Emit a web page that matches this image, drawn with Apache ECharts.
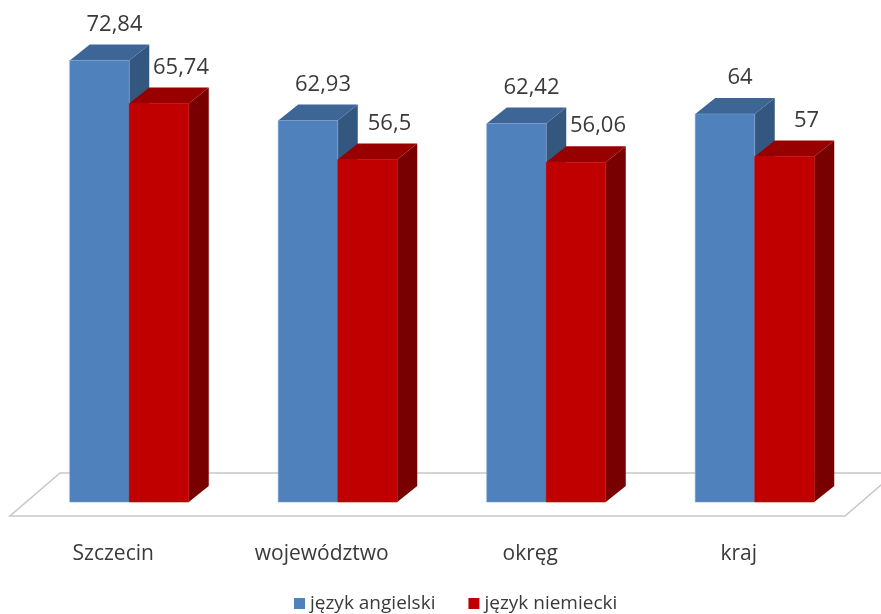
<!DOCTYPE html>
<html><head><meta charset="utf-8">
<script src="https://cdn.jsdelivr.net/npm/echarts@6/dist/echarts.min.js"></script>
<style>html,body{margin:0;padding:0;background:#fff}#c{width:881px;height:614px}</style>
</head><body><div id="c"></div>
<script>
const categories = ['Szczecin', 'województwo', 'okręg', 'kraj'];
const angielski = [72.84, 62.93, 62.42, 64];
const niemiecki = [65.74, 56.5, 56.06, 57];
const seriesNames = ['język angielski', 'język niemiecki'];

const FONT = '"Open Sans", sans-serif';
const TEXT = '#3a3a3a';
const palette = {
  blue: { front: '#4F81BD', top: '#3D6696', side: '#33577F', edge: '#7E9FCC' },
  red: { front: '#C00000', top: '#980000', side: '#780000', edge: '#C00000' }
};

function fmt(v) { return String(v).replace('.', ','); }

function barRender(sideIdx, c, labelDx) {
  return function (params, api) {
    const i = api.value(0), v = api.value(1);
    const base = api.coord([i, 0]);
    const topP = api.coord([i, v]);
    const band = api.size([1, 0])[0];
    const w = band * 0.2854;
    const dx = band * 0.0959, dy = -band * 0.0767;
    const x0 = sideIdx === 0 ? base[0] - w : base[0];
    const x1 = x0 + w;
    const yb = base[1], yt = topP[1];
    return {
      type: 'group',
      children: [
        { type: 'polygon', shape: { points: [[x1, yt], [x1 + dx, yt + dy], [x1 + dx, yb + dy], [x1, yb]] },
          style: { fill: c.side } },
        { type: 'polygon', shape: { points: [[x0, yt], [x0 + dx, yt + dy], [x1 + dx, yt + dy], [x1, yt]] },
          style: { fill: c.top } },
        { type: 'rect', shape: { x: x0, y: yt, width: w, height: yb - yt },
          style: { fill: c.front, stroke: c.edge, lineWidth: 0.6 } },
        { type: 'text', style: { text: fmt(v), x: x0 + w / 2 + dx / 2 + labelDx, y: yt + dy - 20,
          fill: TEXT, fontSize: 22, fontFamily: FONT, align: 'center', verticalAlign: 'middle' } }
      ]
    };
  };
}

function floorRender(params, api) {
  const cs = params.coordSys;
  const L = cs.x, R = cs.x + cs.width, B = cs.y + cs.height;
  return {
    type: 'polygon',
    shape: { points: [[L + 35, B - 29], [R + 36, B - 29], [R - 14, B + 14], [L - 15, B + 14]] },
    style: { fill: '#ffffff', stroke: '#c8c8c8', lineWidth: 1.6 }
  };
}

const chart = echarts.init(document.getElementById('c'));
chart.setOption({
  animation: false,
  backgroundColor: '#ffffff',
  grid: { left: 25, right: 22, top: 17, bottom: 112 },
  xAxis: {
    type: 'category', data: categories,
    axisLine: { show: false }, axisTick: { show: false }, splitLine: { show: false },
    axisLabel: { color: TEXT, fontSize: 21, fontFamily: FONT, margin: 42, padding: [0, 32, 0, 0] }
  },
  yAxis: { type: 'value', min: 0, max: 80, show: false },
  legend: {
    data: seriesNames, left: 289, top: 589, icon: 'rect', itemWidth: 11, itemHeight: 11,
    itemGap: 33, textStyle: { color: TEXT, fontSize: 19, fontFamily: FONT }
  },
  series: [
    { type: 'custom', name: 'floor', silent: true, clip: false, data: [[0, 0]], renderItem: floorRender, z: 1 },
    { type: 'custom', name: seriesNames[0], clip: false, itemStyle: { color: palette.blue.front },
      data: angielski.map((v, i) => [i, v]), renderItem: barRender(0, palette.blue, 5), z: 2 },
    { type: 'custom', name: seriesNames[1], clip: false, itemStyle: { color: palette.red.front },
      data: niemiecki.map((v, i) => [i, v]), renderItem: barRender(1, palette.red, 12), z: 3 }
  ]
});
</script>
</body></html>
